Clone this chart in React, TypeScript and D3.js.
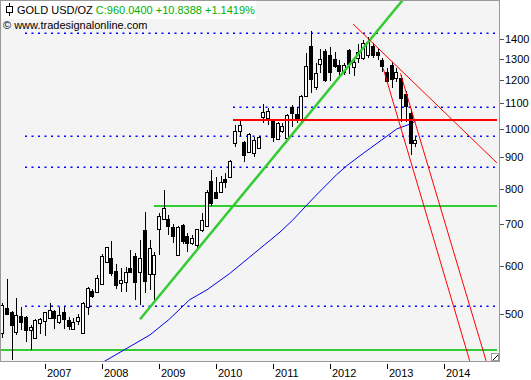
import React from "react";
import * as d3 from "d3";

// ---- data (monthly candles, Apr 2006 .. Jul 2013) ----
const firstMonth = new Date(2006, 3, 1);
const opens = [466,511,505,468,497,495,471,458,484,488,494,507,485,505,489,474,488,467,514,546,544,560,609,617,588,562,565,595,621,586,685,582,582,687,715,715,693,624,698,670,653,648,685,696,823,789,789,829,836,948,991,953,918,915,932,1045,1041,1031,962,994,966,1084,1056,1034,1132,1362,1169,1273,1338,1318,1297,1270,1238,1343,1261,1302,1303,1318,1365,1333,1294,1238,1270,1209,1212,1140,1063,948];
const highs = [521,570,507,531,513,497,480,491,493,505,522,508,514,514,495,493,500,524,554,550,579,626,644,657,604,595,597,636,628,659,734,660,632,729,797,725,702,695,702,677,673,689,729,796,858,836,839,848,892,1015,1034,955,985,971,974,1098,1081,1037,1027,1023,1057,1094,1084,1135,1328,1440,1278,1351,1351,1360,1333,1294,1278,1351,1299,1374,1395,1410,1378,1351,1302,1255,1283,1258,1223,1152,1077,972];
const lows = [458,499,422,463,471,451,438,457,464,461,493,474,483,473,471,471,480,466,499,531,543,558,607,578,550,544,544,583,527,517,541,548,527,624,711,673,653,621,651,632,648,636,681,695,750,770,786,803,833,936,975,884,915,901,929,1023,1015,953,959,985,962,1009,1023,1027,1129,1146,1157,1231,1194,1197,1255,1215,1223,1226,1219,1278,1294,1303,1302,1294,1238,1187,1164,1191,1026,1026,907,936];
const closes = [518,500,480,499,485,471,476,489,492,504,509,493,499,491,479,486,495,521,551,536,573,623,642,583,558,569,586,585,565,617,566,640,624,723,743,695,670,693,658,653,666,687,711,790,759,772,821,821,887,991,1015,907,981,959,969,1067,1071,971,1023,1011,1053,1063,1037,1132,1265,1205,1234,1297,1201,1238,1267,1241,1270,1273,1285,1333,1379,1384,1318,1318,1264,1197,1206,1238,1123,1088,948,960];

const yearTicks = [2007, 2008, 2009, 2010, 2011, 2012, 2013, 2014];
const priceTicks = [500, 600, 700, 800, 900, 1000, 1100, 1200, 1300, 1400];

// moving average line
const maDates = ["2008-01-07","2008-09-01","2008-11-04","2009-03-04","2009-07-16","2009-11-04","2010-03-28","2011-02-15","2011-05-07","2011-09-25","2012-02-15","2012-04-24","2012-08-12","2012-11-28","2013-03-04","2013-04-24","2013-06-09","2013-07-04"];
const maValues = [418,453,463,490,528,548,582,680,711,776,844,874,917,960,1000,1011,1021,1031];

// horizontal dotted levels
const dottedLevels = [1432, 1085, 974, 867, 516];
const dottedStarts = ["2006-08-26","2010-04-20","2006-08-26","2006-08-26","2006-08-26"];
const levelEnd = "2014-12-05";

// horizontal solid support / resistance
const greenLevels = [749, 438];
const greenStarts = ["2008-12-01", "2006-03-20"];
const redLevel = 1035;
const redStart = "2010-04-20";

// trend lines [date1, value1, date2, value2]
const greenTrend = ["2008-09-01", 491, "2013-05-01", 1642];
const redTrends = [
  ["2012-05-28", 1481, "2014-12-06", 881],
  ["2012-12-07", 1255, "2014-06-15", 420],
  ["2013-03-28", 1231, "2014-09-28", 420],
];

const W = 531, H = 380;
const plotL = 0, plotR = 499, plotT = 0, plotB = 361;
const FONT = "'Liberation Sans', Arial, sans-serif";

export default function App() {
  const x = d3.scaleTime().domain([new Date(2007, 0, 1), new Date(2014, 0, 1)]).range([45, 444]);
  const y = d3.scaleLog().domain([419.9, 1619.8]).range([plotB, plotT]);
  const pd = (s: string) => new Date(s + "T00:00:00");
  const months = d3.timeMonth.range(firstMonth, d3.timeMonth.offset(firstMonth, opens.length));

  const maLine = d3.line<number>()
    .x((_, i) => x(pd(maDates[i])))
    .y((v) => y(v));

  return (
    <svg width={W} height={H} style={{ position: "absolute", left: 0, top: 0, background: "#fff" }} fontFamily={FONT}>
      <defs>
        <clipPath id="plotclip">
          <rect x={plotL + 1} y={plotT + 1} width={plotR - plotL - 1} height={plotB - plotT - 1} />
        </clipPath>
      </defs>
      <rect x={0} y={0} width={W} height={H} fill="#fff" />
      <rect x={plotL} y={plotT} width={plotR - plotL} height={plotB - plotT} fill="#f4f4f4" />
      <g clipPath="url(#plotclip)">
        {dottedLevels.map((v, i) => (
          <line key={"d" + i} x1={Math.round(x(pd(dottedStarts[i])))} x2={Math.round(x(pd(levelEnd)))}
            y1={Math.round(y(v)) + 0.25} y2={Math.round(y(v)) + 0.25}
            stroke="#0000ff" strokeWidth={1.5} strokeDasharray="2,4.5" />
        ))}
        {greenLevels.map((v, i) => (
          <line key={"g" + i} x1={x(pd(greenStarts[i]))} x2={x(pd(levelEnd))}
            y1={Math.round(y(v))} y2={Math.round(y(v))} stroke="#33cc33" strokeWidth={2} shapeRendering="crispEdges" />
        ))}
        <path d={maLine(maValues) || ""} fill="none" stroke="#0000ee" strokeWidth={1} />
        <g shapeRendering="crispEdges">
          {months.map((m, i) => {
            const cx = Math.round(x(m));
            const o = opens[i], c = closes[i];
            const up = c >= o;
            const top = Math.round(y(Math.max(o, c)));
            const bot = Math.round(y(Math.min(o, c)));
            return (
              <g key={"c" + i}>
                <line x1={cx + 0.5} x2={cx + 0.5} y1={Math.round(y(highs[i]))} y2={Math.round(y(lows[i]))} stroke="#000" strokeWidth={1} />
                <rect x={cx - 1.5} y={top + 0.5} width={3} height={Math.max(1, bot - top)}
                  fill={up ? "#fff" : "#000"} stroke="#000" strokeWidth={1} />
              </g>
            );
          })}
        </g>
        <line x1={x(pd(greenTrend[0] as string))} y1={y(greenTrend[1] as number)}
          x2={x(pd(greenTrend[2] as string))} y2={y(greenTrend[3] as number)}
          stroke="#33cc33" strokeWidth={2.5} />
        <line x1={x(pd(redStart))} x2={x(pd(levelEnd))} y1={Math.round(y(redLevel))} y2={Math.round(y(redLevel))} stroke="#ff0000" strokeWidth={2} shapeRendering="crispEdges" />
        {redTrends.map((t, i) => (
          <line key={"r" + i} x1={x(pd(t[0] as string))} y1={y(t[1] as number)}
            x2={x(pd(t[2] as string))} y2={y(t[3] as number)} stroke="#ff0000" strokeWidth={1} />
        ))}
      </g>
      {/* frame */}
      <rect x={plotL + 0.5} y={plotT + 0.5} width={plotR - plotL} height={plotB - plotT} fill="none" stroke="#999" strokeWidth={1} shapeRendering="crispEdges" />
      {/* resize icon */}
      <g shapeRendering="crispEdges">
        <rect x={plotR - 7.5} y={plotB - 7.5} width={7} height={7} fill="#fff" stroke="#999" />
        <line x1={plotR - 6} y1={plotB - 1} x2={plotR - 1} y2={plotB - 6} stroke="#000" />
      </g>
      {/* y axis */}
      {priceTicks.map((v) => (
        <g key={"p" + v}>
          <line x1={plotR + 1} x2={plotR + 5} y1={Math.round(y(v)) + 0.5} y2={Math.round(y(v)) + 0.5} stroke="#555" shapeRendering="crispEdges" />
          <text x={plotR + 6} y={y(v) + 4} fontSize={11} fill="#000">{v}</text>
        </g>
      ))}
      {/* x axis */}
      {yearTicks.map((yr) => {
        const tx = Math.round(x(new Date(yr, 0, 1)));
        return (
          <g key={"y" + yr}>
            <line x1={tx + 0.5} x2={tx + 0.5} y1={plotB + 3} y2={plotB + 8} stroke="#000" shapeRendering="crispEdges" />
            <text x={tx + 2} y={377} fontSize={11} fill="#000">{yr}</text>
          </g>
        );
      })}
      {/* title */}
      <rect x={1} y={1} width={255} height={18} fill="#fff" />
      <g shapeRendering="crispEdges">
        <line x1={9.5} x2={9.5} y1={3} y2={16} stroke="#000" />
        <rect x={6.5} y={6.5} width={6} height={6} fill="#fff" stroke="#000" />
      </g>
      <text x={17} y={14} fontSize={11} fill="#000">
        GOLD USD/OZ <tspan fill="#00b000">C:960.0400 +10.8388 +1.1419%</tspan>
      </text>
      <text x={3} y={29} fontSize={11} fill="#000">© www.tradesignalonline.com</text>
    </svg>
  );
}
